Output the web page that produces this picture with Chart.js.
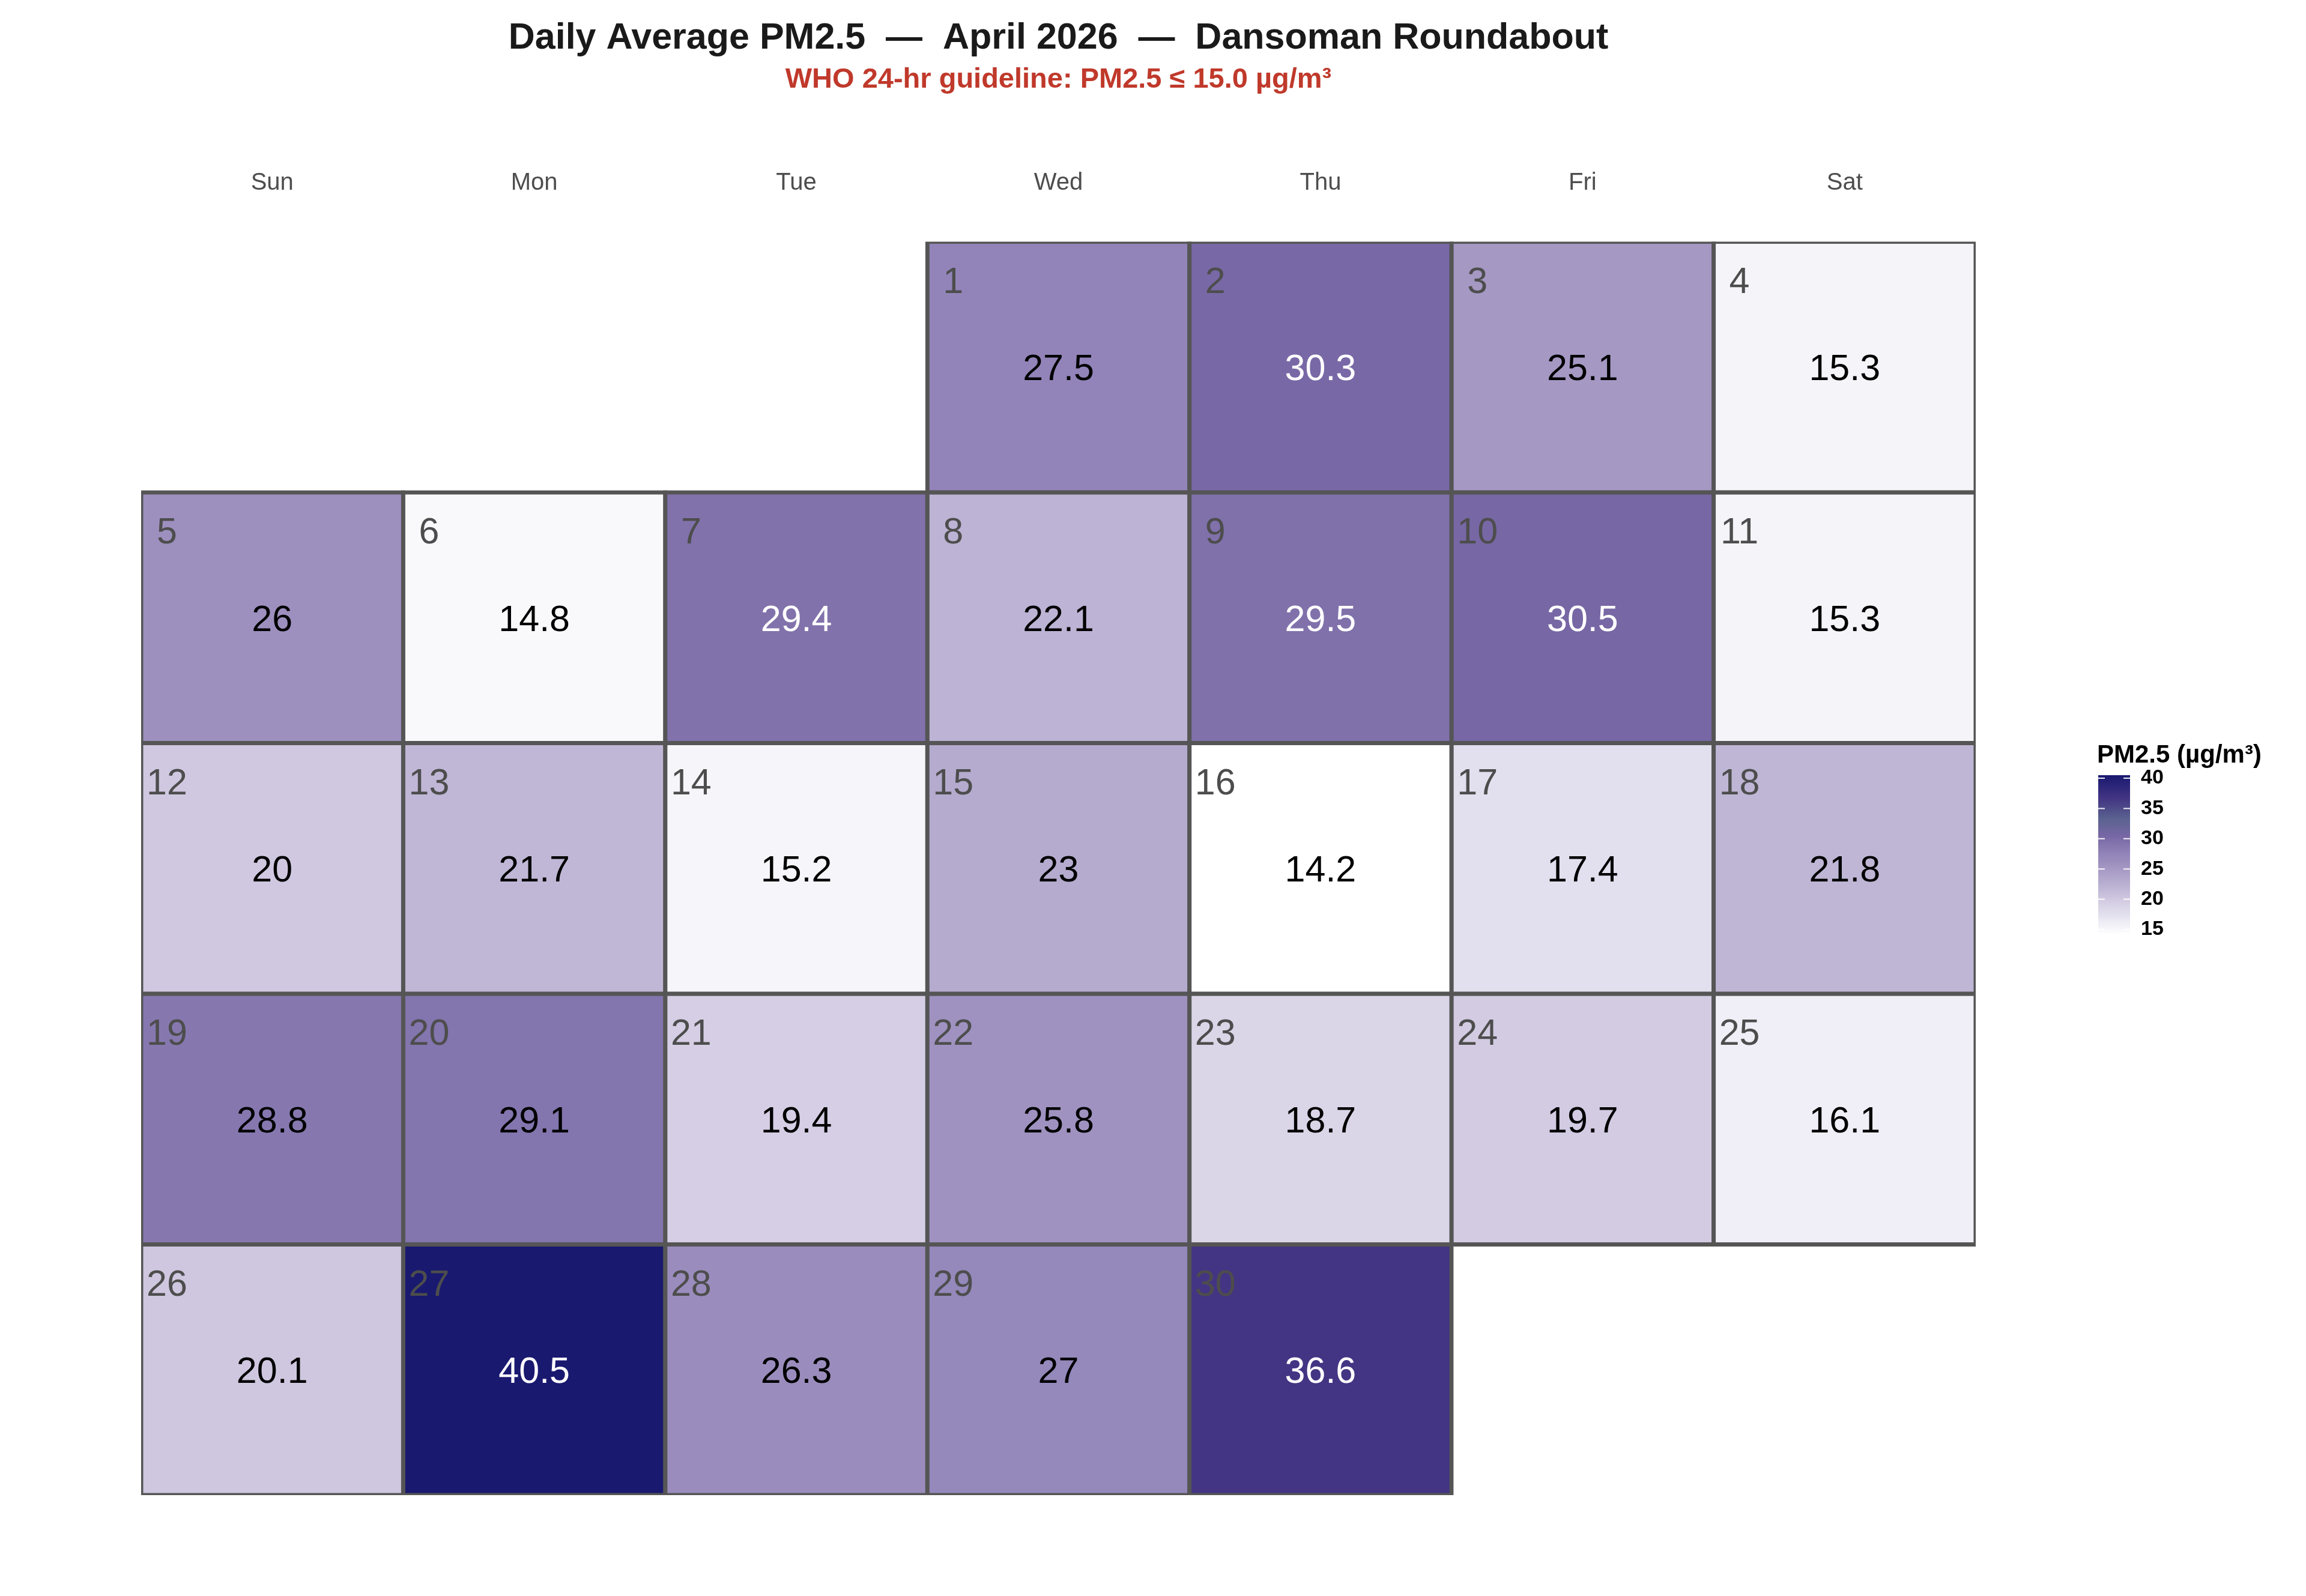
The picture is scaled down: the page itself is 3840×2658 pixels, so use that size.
<!DOCTYPE html>
<html>
<head>
<meta charset="utf-8">
<title>Daily Average PM2.5 — April 2026 — Dansoman Roundabout</title>
<script src="https://cdn.jsdelivr.net/npm/chart.js@4.4.1/dist/chart.umd.min.js"></script>
<style>
  html, body { margin: 0; padding: 0; background: #ffffff; }
  body { width: 3840px; height: 2658px; position: relative; overflow: hidden; font-family: "Liberation Sans", Arial, sans-serif; }
  #calendar { position: absolute; left: 0; top: 0; }
  #scaleBar { position: absolute; left: 3440px; top: 1200px; }
  #scaleTitle { position: absolute; left: 3492px; top: 1233px; font-size: 42px; font-weight: bold; line-height: 46px; color: #000; white-space: nowrap; }
</style>
</head>
<body>
<canvas id="calendar" width="3840" height="2658"></canvas>
<div id="scaleTitle">PM2.5 (µg/m³)</div>
<canvas id="scaleBar" width="200" height="420"></canvas>
<script>
    // ============================
    // DATA
    // ============================
    const weekdays = ["Sun", "Mon", "Tue", "Wed", "Thu", "Fri", "Sat"];
    const days = [1, 2, 3, 4, 5, 6, 7, 8, 9, 10, 11, 12, 13, 14, 15,
                  16, 17, 18, 19, 20, 21, 22, 23, 24, 25, 26, 27, 28, 29, 30];
    const pm25 = [27.5, 30.3, 25.1, 15.3, 26, 14.8, 29.4, 22.1, 29.5, 30.5,
                  15.3, 20, 21.7, 15.2, 23, 14.2, 17.4, 21.8, 28.8, 29.1,
                  19.4, 25.8, 18.7, 19.7, 16.1, 20.1, 40.5, 26.3, 27, 36.6];
    const firstWeekday = 3;   // 1 April 2026 is a Wednesday
    const numWeeks = 5;
    const legendTicks = [15, 20, 25, 30, 35, 40];

    const titleText = "Daily Average PM2.5  —  April 2026  —  Dansoman Roundabout";
    const subtitleText = "WHO 24-hr guideline: PM2.5 ≤ 15.0 µg/m³";

    // ============================
    // COLOUR RAMP
    // ============================
    const colourStops = [
        [14.2, "#ffffff"], [14.8, "#f9f9fb"], [15.3, "#f5f4f9"], [16.1, "#f0eef6"],
        [17.4, "#e2dfee"], [18.7, "#dad6e8"], [20.0, "#d0c8e0"], [21.7, "#c0b7d6"],
        [23.0, "#b5abce"], [25.1, "#a598c3"], [26.3, "#9a8dbd"], [27.5, "#9284b9"],
        [29.0, "#8476ae"], [30.4, "#7867a5"], [33.3, "#5a6290"], [36.6, "#433583"],
        [40.5, "#191970"]
    ];
    const whiteTextAbove = 29.3;
    const fontFamily = '"Liberation Sans", Arial, sans-serif';

    function hexToRgb(hex) {
        const n = parseInt(hex.slice(1), 16);
        return [(n >> 16) & 255, (n >> 8) & 255, n & 255];
    }

    function colourFor(v) {
        if (v <= colourStops[0][0]) return colourStops[0][1];
        for (let i = 1; i < colourStops.length; i++) {
            const [v1, c1] = colourStops[i];
            if (v <= v1) {
                const [v0, c0] = colourStops[i - 1];
                const t = (v - v0) / (v1 - v0);
                const a = hexToRgb(c0), b = hexToRgb(c1);
                const mix = a.map((x, k) => Math.round(x + (b[k] - x) * t));
                return `rgb(${mix[0]}, ${mix[1]}, ${mix[2]})`;
            }
        }
        return colourStops[colourStops.length - 1][1];
    }

    // ============================
    // CALENDAR GRID
    // ============================
    const weekRows = [];
    for (let w = 0; w < numWeeks; w++) {
        weekRows.push({ cells: Array(7).fill(null), dayNo: Array(7).fill(null), value: Array(7).fill(null) });
    }
    days.forEach((d, i) => {
        const slot = firstWeekday + d - 1;
        const w = Math.floor(slot / 7);
        const c = slot % 7;
        weekRows[w].cells[c] = [w, w + 1];
        weekRows[w].dayNo[c] = d;
        weekRows[w].value[c] = pm25[i];
    });

    const datasets = weekRows.map(row => ({
        data: row.cells,
        backgroundColor: row.value.map(v => v == null ? "rgba(0,0,0,0)" : colourFor(v)),
        borderColor: "#555555",
        borderWidth: 7,
        borderSkipped: false,
        inflateAmount: 3.5,
        grouped: false,
        barPercentage: 1,
        categoryPercentage: 1
    }));

    // day number + value inside each cell
    const cellText = {
        id: "cellText",
        afterDatasetsDraw(chart) {
            const ctx = chart.ctx;
            ctx.save();
            ctx.font = `61px ${fontFamily}`;
            ctx.textAlign = "center";
            chart.data.datasets.forEach((ds, w) => {
                chart.getDatasetMeta(w).data.forEach((bar, c) => {
                    const v = weekRows[w].value[c];
                    if (v == null) return;
                    const left = bar.x - bar.width / 2;
                    const top = Math.min(bar.y, bar.base);
                    const bottom = Math.max(bar.y, bar.base);

                    ctx.textBaseline = "alphabetic";
                    ctx.fillStyle = "#4d4d4d";
                    ctx.fillText(String(weekRows[w].dayNo[c]), left + 43, top + 85);

                    ctx.textBaseline = "middle";
                    ctx.fillStyle = v > whiteTextAbove ? "#ffffff" : "#000000";
                    ctx.fillText(String(v), bar.x, (top + bottom) / 2 + 5);
                });
            });
            ctx.restore();
        }
    };

    new Chart(document.getElementById("calendar"), {
        type: "bar",
        data: { labels: weekdays, datasets: datasets },
        options: {
            responsive: false,
            devicePixelRatio: 1,
            animation: false,
            layout: { padding: { left: 235, right: 550, top: 0, bottom: 168 } },
            plugins: {
                legend: { display: false },
                tooltip: { enabled: false },
                title: {
                    display: true,
                    text: titleText,
                    color: "#1a1a1a",
                    font: { family: fontFamily, size: 61, weight: "bold" },
                    padding: { top: 28, bottom: 4 }
                },
                subtitle: {
                    display: true,
                    text: subtitleText,
                    color: "#c0392b",
                    font: { family: fontFamily, size: 47, weight: "bold" },
                    padding: { top: 0, bottom: 45 }
                }
            },
            scales: {
                x: {
                    position: "top",
                    grid: { display: false, drawTicks: false },
                    border: { display: false },
                    ticks: { color: "#4d4d4d", padding: 74, font: { family: fontFamily, size: 40 } }
                },
                y: { display: false, min: 0, max: numWeeks, reverse: true }
            }
        },
        plugins: [cellText]
    });

    // ============================
    // COLOUR BAR LEGEND
    // ============================
    const vMin = Math.min(...pm25);
    const vMax = Math.max(...pm25);

    const barTicks = {
        id: "barTicks",
        afterDatasetsDraw(chart) {
            const { ctx, chartArea, scales: { y } } = chart;
            ctx.save();
            ctx.strokeStyle = "rgba(255,255,255,0.9)";
            ctx.lineWidth = 2;
            legendTicks.forEach(t => {
                const py = y.getPixelForValue(t);
                ctx.beginPath();
                ctx.moveTo(chartArea.left, py);
                ctx.lineTo(chartArea.left + 11, py);
                ctx.moveTo(chartArea.right - 11, py);
                ctx.lineTo(chartArea.right, py);
                ctx.stroke();
            });
            ctx.restore();
        }
    };

    new Chart(document.getElementById("scaleBar"), {
        type: "bar",
        data: {
            labels: [""],
            datasets: [{
                data: [[vMin, vMax]],
                backgroundColor: c => {
                    const yScale = c.chart.scales.y;
                    if (!c.chart.chartArea || !yScale) return colourFor(vMax);
                    const g = c.chart.ctx.createLinearGradient(0, yScale.getPixelForValue(vMin), 0, yScale.getPixelForValue(vMax));
                    colourStops.forEach(([v, col]) => g.addColorStop((v - vMin) / (vMax - vMin), col));
                    return g;
                },
                borderWidth: 0,
                barPercentage: 1,
                categoryPercentage: 1
            }]
        },
        options: {
            responsive: false,
            devicePixelRatio: 1,
            animation: false,
            layout: { padding: { left: 54, right: 33, top: 91, bottom: 64 } },
            plugins: { legend: { display: false }, tooltip: { enabled: false } },
            scales: {
                x: { display: false },
                y: {
                    position: "right",
                    min: vMin,
                    max: vMax,
                    grid: { display: false, drawTicks: false },
                    border: { display: false },
                    afterBuildTicks: scale => { scale.ticks = legendTicks.map(v => ({ value: v })); },
                    afterFit: scale => { scale.width = 60; },
                    ticks: { padding: 18, color: "#000000", font: { family: fontFamily, size: 34, weight: "bold" } }
                }
            }
        },
        plugins: [barTicks]
    });
</script>
</body>
</html>
